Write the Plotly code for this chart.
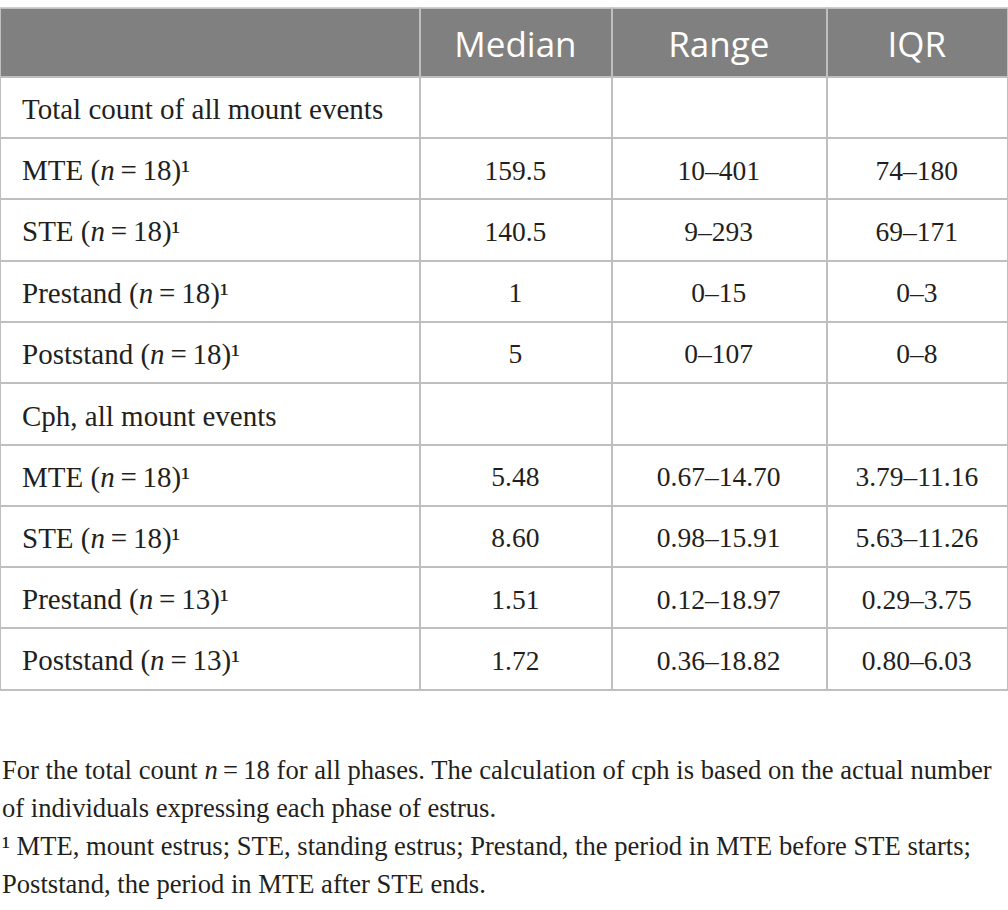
import plotly.graph_objects as go

header_labels = ["Median", "Range", "IQR"]

row_labels = [
    "Total count of all mount events",
    "MTE (<i>n</i>\u2009=\u200918)\u00b9",
    "STE (<i>n</i>\u2009=\u200918)\u00b9",
    "Prestand (<i>n</i>\u2009=\u200918)\u00b9",
    "Poststand (<i>n</i>\u2009=\u200918)\u00b9",
    "Cph, all mount events",
    "MTE (<i>n</i>\u2009=\u200918)\u00b9",
    "STE (<i>n</i>\u2009=\u200918)\u00b9",
    "Prestand (<i>n</i>\u2009=\u200913)\u00b9",
    "Poststand (<i>n</i>\u2009=\u200913)\u00b9",
]
median_vals = ["", "159.5", "140.5", "1", "5", "", "5.48", "8.60", "1.51", "1.72"]
range_vals = ["", "10–401", "9–293", "0–15", "0–107", "",
              "0.67–14.70", "0.98–15.91", "0.12–18.97", "0.36–18.82"]
iqr_vals = ["", "74–180", "69–171", "0–3", "0–8", "",
            "3.79–11.16", "5.63–11.26", "0.29–3.75", "0.80–6.03"]

footnotes = [
    "For the total count <i>n</i>\u2009=\u200918 for all phases. The calculation of cph is based on the actual number",
    "of individuals expressing each phase of estrus.",
    "\u00b9 MTE, mount estrus; STE, standing estrus; Prestand, the period in MTE before STE starts;",
    "Poststand, the period in MTE after STE ends.",
]

W, H = 1008, 910
border = "#bfbfbf"
txt = "#231f20"
clear = "rgba(0,0,0,0)"

top = 8.3
head_h = 68.4
row_h = 61.3
col_w = [419.5, 192, 215, 181.5]
pad_left = 14
head_shift = 14.8
section_shift = 13.0
label_shift = 8.0
value_shift = 12.9

n_rows = len(row_labels)
blank_cols = [[""] * n_rows for _ in range(4)]
is_section = [median_vals[i] == "" for i in range(n_rows)]
section_labels = [l if s else "" for l, s in zip(row_labels, is_section)]
sub_labels = ["" if s else l for l, s in zip(row_labels, is_section)]

# grid: fills and rules
fig = go.Figure(go.Table(
    domain=dict(x=[0, 1], y=[0, 1 - top / H]),
    columnwidth=col_w,
    header=dict(
        values=[""] * 4,
        fill_color="#808080",
        line=dict(color=border, width=2),
        height=head_h,
    ),
    cells=dict(
        values=blank_cols,
        fill_color="white",
        line=dict(color=border, width=2),
        height=row_h,
    ),
))

# text layers: row labels (section headings and sub rows)
for labels, shift in ((section_labels, section_shift), (sub_labels, label_shift)):
    fig.add_trace(go.Table(
        domain=dict(x=[pad_left / W, col_w[0] / W], y=[0, 1 - top / H]),
        columnwidth=[col_w[0] - pad_left],
        header=dict(
            values=[""],
            fill_color=clear,
            line=dict(color=clear, width=0),
            height=head_h + shift,
        ),
        cells=dict(
            values=[labels],
            fill_color=clear,
            line=dict(color=clear, width=0),
            font=dict(family="Liberation Serif", size=29, color=txt),
            align="left",
            height=row_h,
        ),
    ))

# text layer: header + values
fig.add_trace(go.Table(
    domain=dict(x=[col_w[0] / W, 1], y=[0, 1 - (top + head_shift) / H]),
    columnwidth=col_w[1:],
    header=dict(
        values=header_labels,
        fill_color=clear,
        line=dict(color=clear, width=0),
        font=dict(family="Open Sans", size=35, color="white"),
        align="center",
        height=head_h - (head_shift - value_shift),
    ),
    cells=dict(
        values=[median_vals, range_vals, iqr_vals],
        fill_color=clear,
        line=dict(color=clear, width=0),
        font=dict(family="Liberation Serif", size=27.5, color=txt),
        align="center",
        height=row_h,
    ),
))

ys = [770, 808, 846, 884]
for t, yy in zip(footnotes, ys):
    fig.add_annotation(
        text=t, xref="paper", yref="paper", x=0, y=1 - yy / H,
        xanchor="left", yanchor="middle", showarrow=False,
        font=dict(family="Liberation Serif", size=26.6, color=txt),
    )

fig.update_layout(
    width=W, height=H,
    margin=dict(l=0, r=0, t=0, b=0),
    paper_bgcolor="white",
    plot_bgcolor="white",
)

fig.write_html("out.html", config={"displayModeBar": False},
               post_script="document.body.style.margin='0';")
